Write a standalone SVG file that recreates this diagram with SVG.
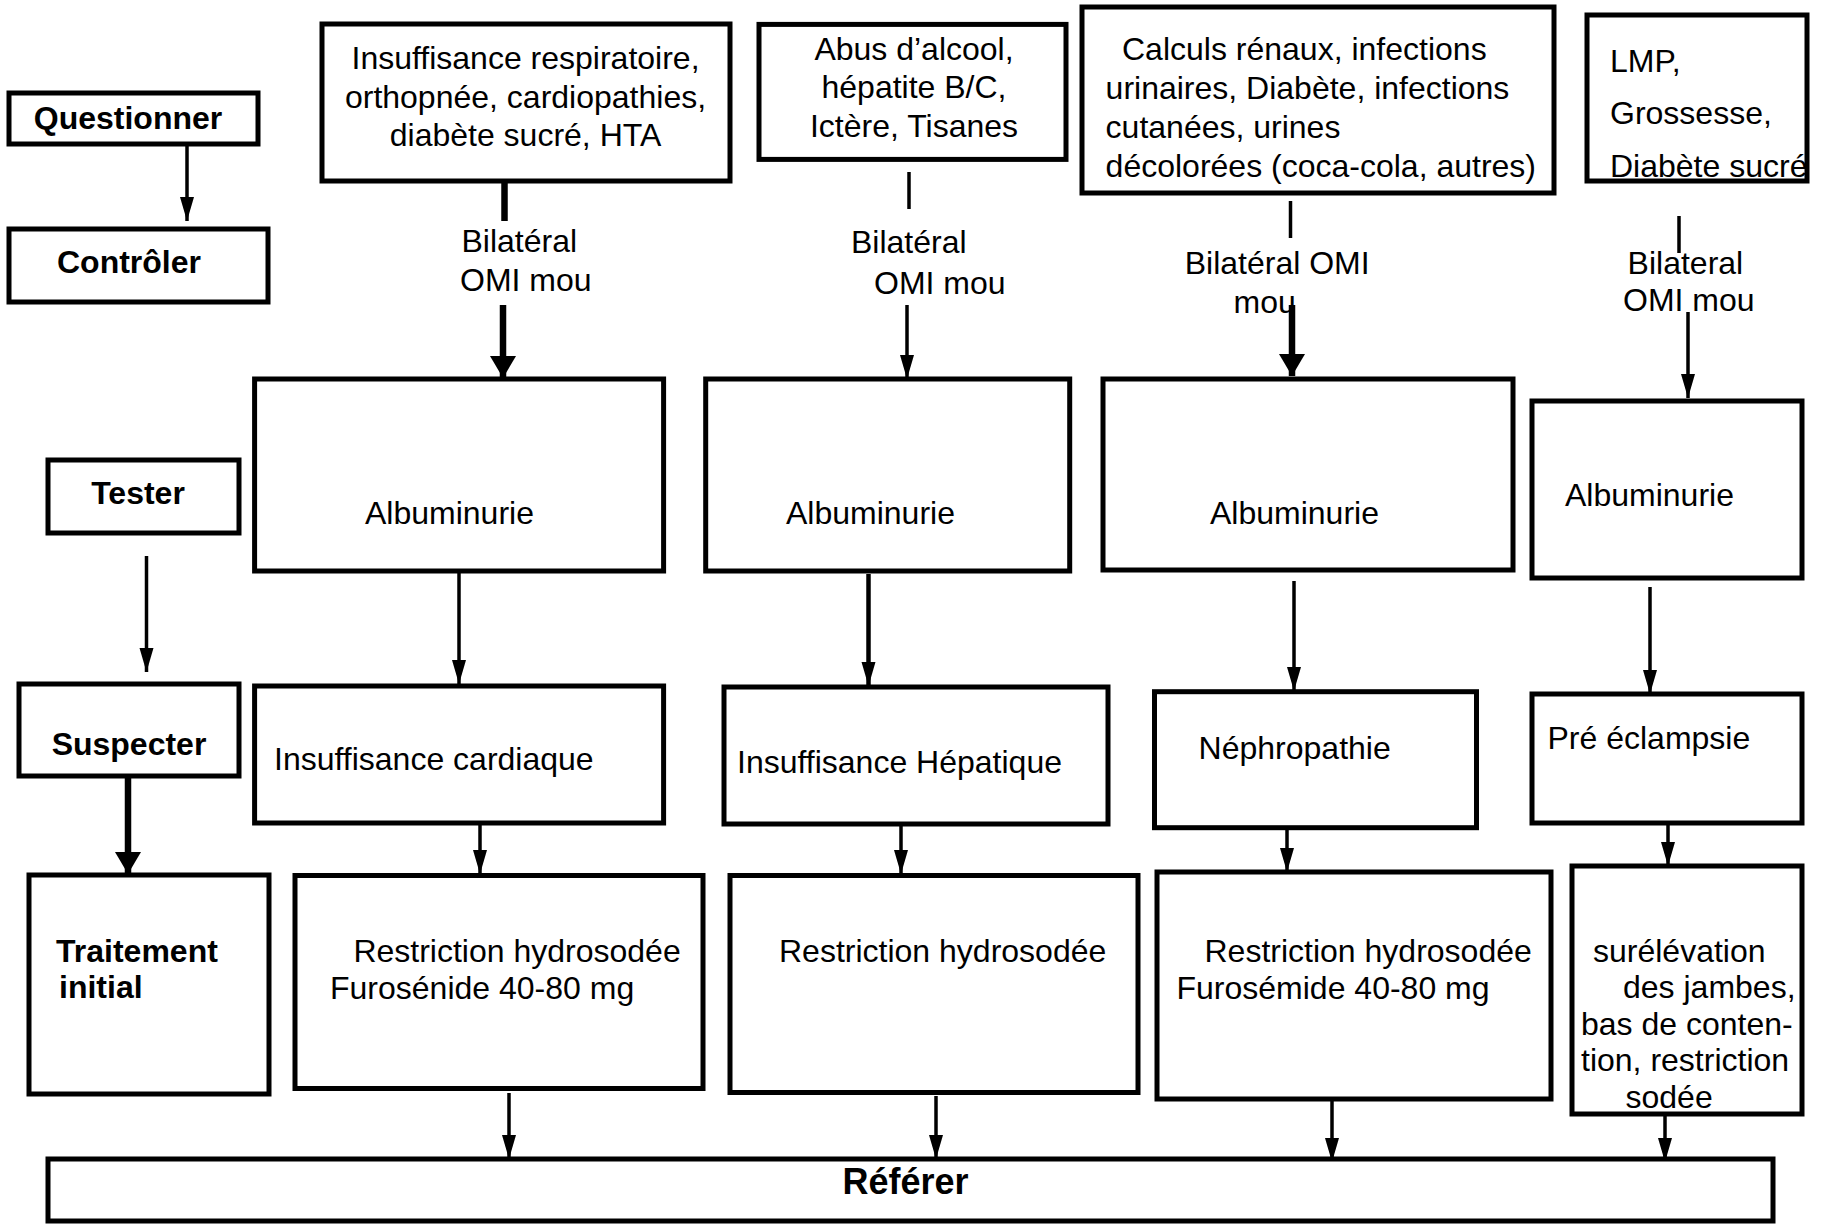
<svg xmlns="http://www.w3.org/2000/svg" width="1823" height="1224" viewBox="0 0 1823 1224">
<style>
  .box { fill: #fff; stroke: #000; stroke-width: 5; }
  .t { font-family: "Liberation Sans", Arial, sans-serif; font-size: 32px; fill: #000; }
  .b { font-weight: bold; }
  .c { text-anchor: middle; }
  .ln { stroke: #000; stroke-width: 3.5; fill: none; }
  .thk { stroke: #000; stroke-width: 6.5; fill: none; }
  .a { marker-end: url(#ah); }
  .ak { marker-end: url(#ahk); }
</style>
<defs>
  <marker id="ah" markerUnits="userSpaceOnUse" markerWidth="26" markerHeight="16" refX="24" refY="7" orient="auto">
    <path d="M0,0 L24,7 L0,14 z" fill="#000"/>
  </marker>
  <marker id="ahk" markerUnits="userSpaceOnUse" markerWidth="26" markerHeight="28" refX="22" refY="13" orient="auto">
    <path d="M0,0 L22,13 L0,26 z" fill="#000"/>
  </marker>
</defs>
<rect width="1823" height="1224" fill="#fff"/>

<g id="connectors">
  <line class="ln a" x1="187" y1="144" x2="187" y2="221"/>
  <line class="ln a" x1="146.5" y1="556" x2="146.5" y2="672"/>
  <line class="thk ak" x1="128" y1="776" x2="128" y2="874"/>

  <line class="thk" x1="504.5" y1="181" x2="504.5" y2="221"/>
  <line class="thk ak" x1="503" y1="305" x2="503" y2="378"/>
  <line class="ln a" x1="459" y1="571" x2="459" y2="684"/>
  <line class="ln a" x1="480" y1="823" x2="480" y2="874"/>
  <line class="ln a" x1="509" y1="1093" x2="509" y2="1159"/>

  <line class="ln" x1="909" y1="172" x2="909" y2="209"/>
  <line class="ln a" x1="907" y1="305" x2="907" y2="379"/>
  <line class="thk a" x1="868.5" y1="574" x2="868.5" y2="686" style="stroke-width:4.5"/>
  <line class="ln a" x1="901" y1="824" x2="901" y2="874"/>
  <line class="ln a" x1="936" y1="1096" x2="936" y2="1159"/>

  <line class="ln" x1="1290.5" y1="201" x2="1290.5" y2="238"/>
  <line class="thk ak" x1="1292" y1="305" x2="1292" y2="376"/>
  <line class="ln a" x1="1294" y1="581" x2="1294" y2="691"/>
  <line class="ln a" x1="1287" y1="828" x2="1287" y2="872"/>
  <line class="ln a" x1="1332" y1="1096" x2="1332" y2="1162"/>

  <line class="ln" x1="1679" y1="216" x2="1679" y2="253"/>
  <line class="ln a" x1="1688" y1="312" x2="1688" y2="398"/>
  <line class="ln a" x1="1650" y1="587" x2="1650" y2="694"/>
  <line class="ln a" x1="1668" y1="825" x2="1668" y2="866"/>
  <line class="ln a" x1="1665" y1="1114" x2="1665" y2="1162"/>
</g>

<g id="questionner">
  <rect class="box" x="9" y="93" width="249" height="51"/>
  <text class="t b c" x="128" y="129">Questionner</text>
</g>
<g id="controler">
  <rect class="box" x="9" y="229" width="259" height="73"/>
  <text class="t b c" x="129" y="273">Contrôler</text>
</g>
<g id="tester">
  <rect class="box" x="48" y="460" width="191" height="73"/>
  <text class="t b c" x="138" y="504">Tester</text>
</g>
<g id="suspecter">
  <rect class="box" x="19" y="684" width="220" height="92"/>
  <text class="t b c" x="129" y="755">Suspecter</text>
</g>
<g id="traitement">
  <rect class="box" x="29" y="875" width="240" height="219"/>
  <text class="t b" x="56" y="962">Traitement</text>
  <text class="t b" x="59" y="998">initial</text>
</g>

<g id="cause1">
  <rect class="box" x="322" y="24" width="408" height="157"/>
  <text class="t c" x="525.5" y="69">Insuffisance respiratoire,</text>
  <text class="t c" x="525.5" y="107.5">orthopnée, cardiopathies,</text>
  <text class="t c" x="525.5" y="146">diabète sucré, HTA</text>
</g>
<g id="label1">
  <text class="t" x="461.5" y="252">Bilatéral</text>
  <text class="t" x="460" y="291">OMI mou</text>
</g>
<g id="alb1">
  <rect class="box" x="254.6" y="379" width="409" height="192"/>
  <text class="t" x="365" y="524">Albuminurie</text>
</g>
<g id="susp1">
  <rect class="box" x="254.6" y="686" width="409" height="137"/>
  <text class="t" x="274" y="770">Insuffisance cardiaque</text>
</g>
<g id="trt1">
  <rect class="box" x="295" y="875.5" width="408" height="213"/>
  <text class="t" x="353.4" y="962">Restriction hydrosodée</text>
  <text class="t" x="330" y="999">Furosénide 40-80 mg</text>
</g>

<g id="cause2">
  <rect class="box" x="759" y="24.4" width="307" height="135"/>
  <text class="t c" x="914" y="60">Abus d’alcool,</text>
  <text class="t c" x="914" y="98">hépatite B/C,</text>
  <text class="t c" x="914" y="137">Ictère, Tisanes</text>
</g>
<g id="label2">
  <text class="t" x="851" y="253">Bilatéral</text>
  <text class="t" x="874" y="294">OMI mou</text>
</g>
<g id="alb2">
  <rect class="box" x="705.7" y="379" width="364" height="192"/>
  <text class="t" x="786" y="524">Albuminurie</text>
</g>
<g id="susp2">
  <rect class="box" x="724" y="687" width="384" height="137"/>
  <text class="t" x="737" y="773">Insuffisance Hépatique</text>
</g>
<g id="trt2">
  <rect class="box" x="730" y="875.5" width="408" height="217"/>
  <text class="t" x="779" y="962">Restriction hydrosodée</text>
</g>

<g id="cause3">
  <rect class="box" x="1082" y="7" width="472" height="186"/>
  <text class="t" x="1122" y="60">Calculs rénaux, infections</text>
  <text class="t" x="1105.6" y="99">urinaires, Diabète, infections</text>
  <text class="t" x="1105.6" y="138">cutanées, urines</text>
  <text class="t" x="1105.6" y="177">décolorées (coca-cola, autres)</text>
</g>
<g id="label3">
  <text class="t" x="1184.7" y="274">Bilatéral OMI</text>
  <text class="t" x="1233.5" y="313">mou</text>
</g>
<g id="alb3">
  <rect class="box" x="1103" y="379" width="410" height="191"/>
  <text class="t" x="1210" y="524">Albuminurie</text>
</g>
<g id="susp3">
  <rect class="box" x="1154.5" y="691.7" width="322" height="136"/>
  <text class="t" x="1198.6" y="759">Néphropathie</text>
</g>
<g id="trt3">
  <rect class="box" x="1157" y="872" width="394" height="227"/>
  <text class="t" x="1204.5" y="962">Restriction hydrosodée</text>
  <text class="t" x="1176.5" y="999">Furosémide 40-80 mg</text>
</g>

<g id="cause4">
  <rect class="box" x="1587" y="15" width="220" height="166"/>
  <text class="t" x="1610" y="72">LMP,</text>
  <text class="t" x="1610" y="124">Grossesse,</text>
  <text class="t" x="1610" y="177">Diabète sucré</text>
</g>
<g id="label4">
  <text class="t" x="1627.6" y="274">Bilateral</text>
  <text class="t" x="1623" y="311">OMI mou</text>
</g>
<g id="alb4">
  <rect class="box" x="1532" y="401" width="270" height="177"/>
  <text class="t" x="1565" y="506">Albuminurie</text>
</g>
<g id="susp4">
  <rect class="box" x="1532" y="694" width="270" height="129"/>
  <text class="t" x="1547.5" y="749">Pré éclampsie</text>
</g>
<g id="trt4">
  <rect class="box" x="1572" y="866" width="230" height="248"/>
  <text class="t" x="1593" y="962">surélévation</text>
  <text class="t" x="1623" y="998">des jambes,</text>
  <text class="t" x="1581" y="1035">bas de conten-</text>
  <text class="t" x="1581" y="1071">tion, restriction</text>
  <text class="t" x="1625.5" y="1108">sodée</text>
</g>

<g id="referer">
  <rect class="box" x="48" y="1159" width="1725" height="62"/>
  <text class="t b c" x="905.6" y="1194" style="font-size:36px">Référer</text>
</g>
</svg>
